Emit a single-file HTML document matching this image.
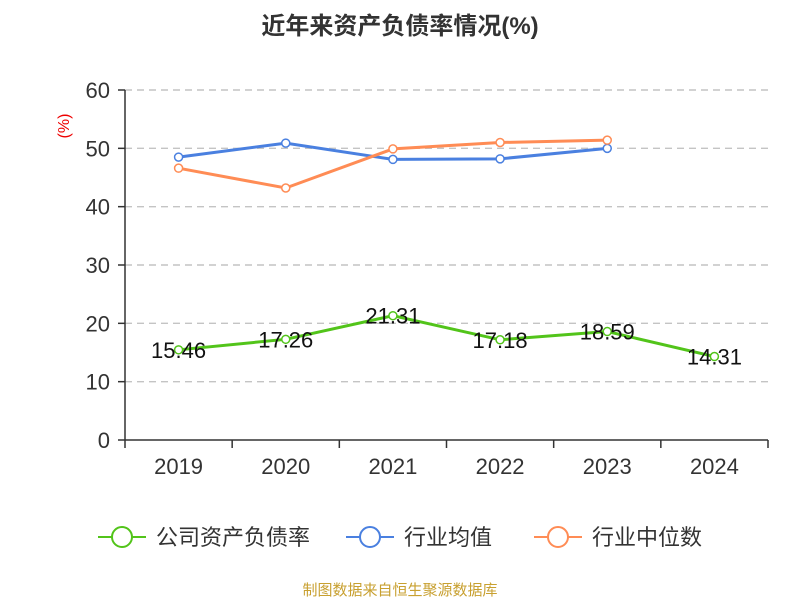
<!DOCTYPE html>
<html><head><meta charset="utf-8"><style>
body{margin:0;background:#fff;}
svg{font-family:"Liberation Sans","Noto Sans CJK SC",sans-serif;}
</style></head><body>
<svg id="c" width="800" height="600">
<text x="400" y="34" text-anchor="middle" font-size="24" font-weight="bold" fill="#333">近年来资产负债率情况(%)</text>
<text x="69" y="126" text-anchor="middle" font-size="16" fill="#e00" transform="rotate(-90 69 126)">(%)</text>
<g id="grid"></g><g id="axes"></g><g id="series"></g>
<g>
<g><line x1="98" y1="537" x2="146" y2="537" stroke="#52c41a" stroke-width="2"/><circle cx="122" cy="537" r="10" fill="#fff" stroke="#52c41a" stroke-width="2"/><text x="156" y="545" font-size="22" fill="#333">公司资产负债率</text></g>
<g><line x1="346" y1="537" x2="394" y2="537" stroke="#4a80e0" stroke-width="2"/><circle cx="370" cy="537" r="10" fill="#fff" stroke="#4a80e0" stroke-width="2"/><text x="404" y="545" font-size="22" fill="#333">行业均值</text></g>
<g><line x1="534" y1="537" x2="582" y2="537" stroke="#ff8c55" stroke-width="2"/><circle cx="558" cy="537" r="10" fill="#fff" stroke="#ff8c55" stroke-width="2"/><text x="592" y="545" font-size="22" fill="#333">行业中位数</text></g>
</g>
<text x="400" y="595" text-anchor="middle" font-size="15" fill="#c8a030">制图数据来自恒生聚源数据库</text>
</svg>
<script>
const categories=["2019","2020","2021","2022","2023","2024"];
const companyValues=[15.46,17.26,21.31,17.18,18.59,14.31];
const industryAvg=[48.5,50.9,48.1,48.2,50.0];
const industryMedian=[46.6,43.2,49.9,51.0,51.4];
const yTicks=[0,10,20,30,40,50,60];
const NS="http://www.w3.org/2000/svg";
const x0=125,x1=768,yBase=440,yTop=90,yMax=60;
const band=(x1-x0)/categories.length;
const xs=i=>x0+band*(i+0.5);
const ys=v=>yBase-(v/yMax)*(yBase-yTop);
function mk(tag,attrs,parent){const e=document.createElementNS(NS,tag);for(const k in attrs)e.setAttribute(k,attrs[k]);parent.appendChild(e);return e;}
const grid=document.getElementById('grid'),axes=document.getElementById('axes'),ser=document.getElementById('series');
yTicks.forEach(t=>{
 if(t>0){const g=mk('line',{x1:x0,x2:x1,y1:ys(t),y2:ys(t),stroke:'#c4c4c4','stroke-dasharray':'7,5','stroke-width':1.4},grid);
 
 }
 const tk=mk('line',{x1:x0-7,x2:x0,y1:ys(t),y2:ys(t),stroke:'#333','stroke-width':1.5},axes);
 
 
 const tx=mk('text',{x:x0-15,y:ys(t)+8,'text-anchor':'end','font-size':22,fill:'#333'},axes);tx.textContent=t;
 
 
});
const ya=mk('line',{x1:x0,x2:x0,y1:yTop,y2:yBase,stroke:'#333','stroke-width':1.5},axes);


const xa=mk('line',{x1:x0,x2:x1,y1:yBase,y2:yBase,stroke:'#333','stroke-width':1.5},axes);


for(let i=0;i<=categories.length;i++){const x=x0+band*i;const t=mk('line',{x1:x,x2:x,y1:yBase,y2:yBase+8,stroke:'#333','stroke-width':1.5},axes);
 
 }
categories.forEach((c,i)=>{const t=mk('text',{x:xs(i),y:474,'text-anchor':'middle','font-size':22,fill:'#333'},axes);t.textContent=c;
 
 });
function line(vals,color,name,labels){
 const g=mk('g',{},ser);
 
 
 mk('polyline',{points:vals.map((v,i)=>xs(i)+','+ys(v)).join(' '),fill:'none',stroke:color,'stroke-width':3},g);
 vals.forEach((v,i)=>{const p=mk('circle',{cx:xs(i),cy:ys(v),r:4,fill:'#fff',stroke:color,'stroke-width':1.5},g);
  
  
  if(labels){const t=mk('text',{x:xs(i),y:ys(v)+8,'text-anchor':'middle','font-size':22,fill:'#111'},g);t.textContent=v.toFixed(2);
   
   }
 });
}
line(industryAvg,'#4a80e0','industry-average-line',false);
line(industryMedian,'#ff8c55','industry-median-line',false);
line(companyValues,'#52c41a','company-debt-ratio-line',true);
</script>
</body></html>
